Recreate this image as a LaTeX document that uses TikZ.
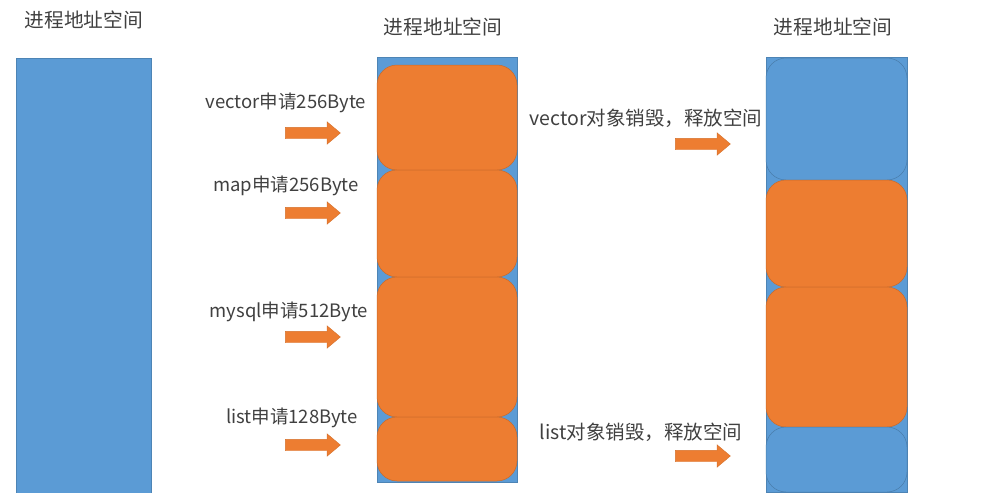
\documentclass[tikz,border=0pt]{standalone}
\usepackage{fontspec}
\setmainfont{Noto Sans CJK SC}
\usepackage{xcolor}
\usetikzlibrary{shapes.arrows, positioning}
\definecolor{memblue}{HTML}{5B9BD5}
\definecolor{memorange}{HTML}{ED7D31}
\definecolor{textgray}{HTML}{404040}

\begin{document}
\begin{tikzpicture}[
  x=1pt, y=-1pt,
  column/.style={rectangle, fill=memblue, draw=memblue!85!black, line width=0.5pt,
                 anchor=north west, inner sep=0pt, outer sep=0pt},
  used/.style={rectangle, rounded corners=20pt, fill=memorange, draw=memorange!85!black,
               line width=0.5pt, anchor=north west, inner sep=0pt, outer sep=0pt},
  freed/.style={used, fill=memblue, draw=memblue!80!black},
  title/.style={font=\fontsize{19.7}{22}\selectfont, text=textgray},
  label/.style={font=\fontsize{18.5}{21}\selectfont, text=textgray},
  freelabel/.style={label, font=\fontsize{19.5}{22}\selectfont},
  push/.style={single arrow, fill=memorange, draw=memorange!90!black, line width=0.4pt,
               minimum height=55pt, inner sep=5.5pt, single arrow head extend=5.5pt,
               single arrow tip angle=80}
]
  \useasboundingbox (0,0) rectangle (989,493);

  % titles
  \node[title] (t1) at (84,20)  {进程地址空间};
  \node[title] (t2) at (443,27) {进程地址空间};
  \node[title] (t3) at (833,27) {进程地址空间};

  % left: empty address space
  \node[column, minimum width=135pt, minimum height=435pt] (c1) at (16,58) {};

  % middle: four allocations
  \node[column, minimum width=140pt, minimum height=425pt] (c2) at (377,57) {};
  \node[used, minimum width=140pt, minimum height=105pt] (m1) at (377,65)  {};
  \node[used, minimum width=140pt, minimum height=107pt] (m2) at (377,170) {};
  \node[used, minimum width=140pt, minimum height=140pt] (m3) at (377,277) {};
  \node[used, minimum width=140pt, minimum height=64pt]  (m4) at (377,417) {};

  \node[label] (vecnew)   at (286,103) {vector申请256Byte};
  \node[label] (mapnew)   at (286,186) {map申请256Byte};
  \node[label] (sqlnew)   at (289,312) {mysql申请512Byte};
  \node[label] (listnew)  at (292,418) {list申请128Byte};
  \node[push] (a1) at (309.5,133) {};
  \node[push] (a2) at (309.5,213) {};
  \node[push] (a3) at (309.5,337) {};
  \node[push] (a4) at (309.5,445) {};

  % right: vector and list released
  \node[column, minimum width=141pt, minimum height=435pt] (c3) at (766,57) {};
  \node[freed, minimum width=141pt, minimum height=122pt] (r1) at (766,58)  {};
  \node[used,  minimum width=141pt, minimum height=107pt] (r2) at (766,180) {};
  \node[used,  minimum width=141pt, minimum height=140pt] (r3) at (766,287) {};
  \node[freed, minimum width=141pt, minimum height=65pt]  (r4) at (766,427) {};

  \node[freelabel] (vecfree)  at (646,118) {vector对象销毁，释放空间};
  \node[freelabel] (listfree) at (641,432) {list对象销毁，释放空间};
  \node[push] (a5) at (699.5,144) {};
  \node[push] (a6) at (699.5,456) {};
\end{tikzpicture}
\end{document}
